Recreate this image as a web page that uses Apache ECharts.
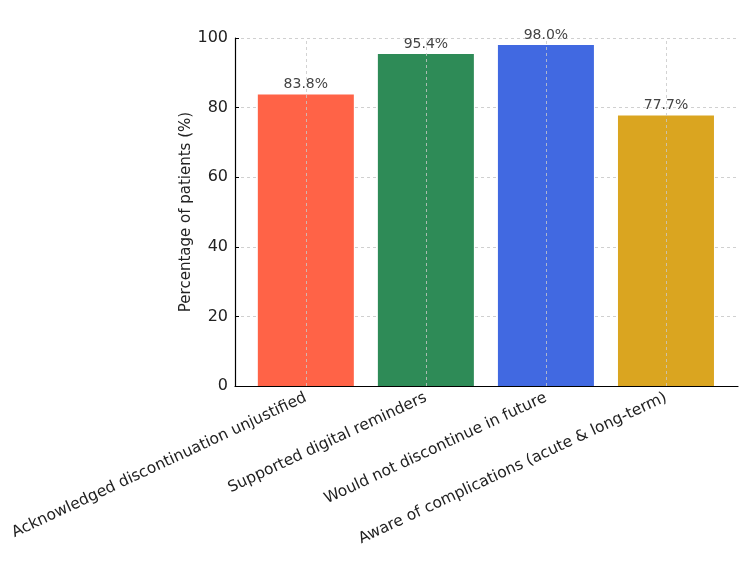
<!DOCTYPE html>
<html><head><meta charset="utf-8">
<script src="https://cdn.jsdelivr.net/npm/echarts@6/dist/echarts.min.js"></script>
<style>html,body{margin:0;padding:0;background:#fff}#c{width:750px;height:563px}</style>
</head><body><div id="c"></div>
<script>
var categories = ["Acknowledged discontinuation unjustified","Supported digital reminders","Would not discontinue in future","Aware of complications (acute & long-term)"];
var values = [83.8, 95.4, 98.0, 77.7];
var colors = ["#FF6347","#2E8B57","#4169E1","#DAA520"];
var yTicks = [0,20,40,60,80,100];

var positions = categories.map(function(_, i){ return i; });
var chart = echarts.init(document.getElementById('c'));
chart.setOption({
  animation: false,
  grid: {left: 235, right: 12, top: 38, bottom: 177, containLabel: false},
  xAxis: {
    type: 'value', min: -0.59, max: 3.6,
    axisLine: {show: true, onZero: false, lineStyle: {color: '#000', width: 1.2}},
    axisTick: {show: true, inside: true, customValues: positions, length: 4, lineStyle: {color: '#000'}},
    axisLabel: {customValues: positions, rotate: 25, margin: 11, fontSize: 15.5, color: '#222',
      fontFamily: 'DejaVu Sans', formatter: function(v){ return categories[Math.round(v)]; }},
    splitLine: {show: false}
  },
  yAxis: {
    type: 'value', min: yTicks[0], max: yTicks[yTicks.length-1], interval: 20,
    name: 'Percentage of patients (%)', nameLocation: 'middle', nameGap: 41, nameMoveOverlap: false,
    nameTextStyle: {fontSize: 15, color: '#222', fontFamily: 'DejaVu Sans'},
    axisLine: {show: true, onZero: false, lineStyle: {color: '#000', width: 1.2}},
    axisTick: {show: true, inside: true, length: 4, lineStyle: {color: '#000'}},
    axisLabel: {fontSize: 16, color: '#222', fontFamily: 'DejaVu Sans', margin: 7},
    splitLine: {show: true, lineStyle: {type: [3,3], color: '#d0d0d0'}}
  },
  series: [{
    type: 'bar', barWidth: 96,
    data: values.map(function(v, i){ return {value: [i, v], itemStyle: {color: colors[i]}}; }),
    label: {show: true, position: 'top', distance: 3, fontSize: 14, color: '#444', fontFamily: 'DejaVu Sans',
      formatter: function(p){ return p.value[1].toFixed(1) + '%'; }},
    markLine: {silent: true, symbol: 'none', label: {show: false},
      lineStyle: {type: [3,3], color: 'rgba(200,200,200,0.8)', width: 1},
      data: positions.map(function(p){ return {xAxis: p}; })},
    z: 2
  }]
});
</script></body></html>
